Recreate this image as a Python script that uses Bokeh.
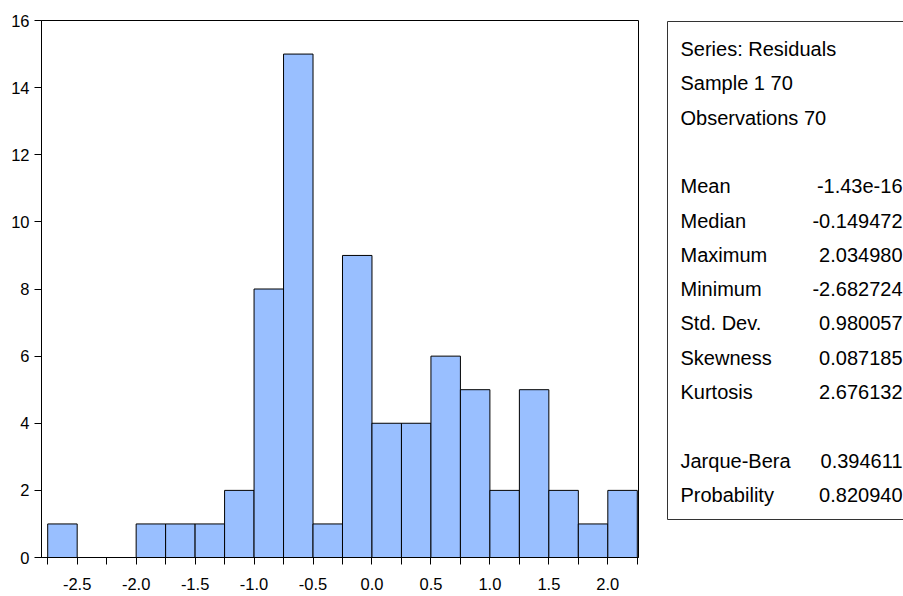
from bokeh.plotting import figure
from bokeh.models import Range1d, FixedTicker, ColumnDataSource
from bokeh.layouts import row
from bokeh.embed import file_html
from bokeh.resources import INLINE
from bokeh.core.properties import value

# ---- data ----
bin_edges = [-2.75, -2.5, -2.25, -2.0, -1.75, -1.5, -1.25, -1.0, -0.75, -0.5, -0.25,
             0.0, 0.25, 0.5, 0.75, 1.0, 1.25, 1.5, 1.75, 2.0, 2.25]
counts = [1, 0, 0, 1, 1, 1, 2, 8, 15, 1, 9, 4, 4, 6, 5, 2, 5, 2, 1, 2]
x_tick_values = [-2.5, -2.0, -1.5, -1.0, -0.5, 0.0, 0.5, 1.0, 1.5, 2.0]
x_tick_labels = ["-2.5", "-2.0", "-1.5", "-1.0", "-0.5", "0.0", "0.5", "1.0", "1.5", "2.0"]
y_tick_values = [0, 2, 4, 6, 8, 10, 12, 14, 16]

header_lines = ["Series: Residuals", "Sample 1 70", "Observations 70"]
stat_names = ["Mean", "Median", "Maximum", "Minimum", "Std. Dev.", "Skewness", "Kurtosis",
              "Jarque-Bera", "Probability"]
stat_values = ["-1.43e-16", "-0.149472", "2.034980", "-2.682724", "0.980057", "0.087185",
               "2.676132", "0.394611", "0.820940"]
stat_rows = [4, 5, 6, 7, 8, 9, 10, 12, 13]

FONT = "Liberation Sans, Arial, sans-serif"
BAR_COLOR = "#99bfff"

TOP, BOTTOM = 20, 39          # frame borders shared by both panels
W1, W2, H = 648, 255, 596

# ---- histogram ----
p = figure(width=W1, height=H, output_backend="svg", toolbar_location=None,
           x_range=Range1d(-2.8026, 2.2602), y_range=Range1d(0, 16),
           min_border_left=41, min_border_right=10,
           min_border_top=TOP, min_border_bottom=BOTTOM)
p.quad(left=bin_edges[:-1], right=bin_edges[1:], bottom=0, top=counts,
       fill_color=BAR_COLOR, line_color="black", line_width=1)

p.xgrid.visible = False
p.ygrid.visible = False
p.outline_line_color = "black"
p.outline_line_width = 1
p.background_fill_color = "white"
p.border_fill_color = "white"

minor = [e for e in bin_edges if e not in x_tick_values]
p.xaxis.ticker = FixedTicker(ticks=x_tick_values, minor_ticks=minor)
p.xaxis.major_label_overrides = {v: s for v, s in zip(x_tick_values, x_tick_labels)}
p.yaxis.ticker = FixedTicker(ticks=y_tick_values, minor_ticks=[])

for ax in (p.xaxis, p.yaxis):
    ax.axis_line_color = "black"
    ax.major_tick_line_color = "black"
    ax.minor_tick_line_color = "black"
    ax.major_tick_in = 0
    ax.major_tick_out = 7
    ax.minor_tick_in = 0
    ax.minor_tick_out = 7
    ax.major_label_text_font = FONT
    ax.major_label_text_font_size = "16.5px"
    ax.major_label_text_color = "black"
p.xaxis.major_label_standoff = 13
p.yaxis.major_label_standoff = 5

# ---- statistics panel (coordinates = page pixels) ----
s = figure(width=W2, height=H, output_backend="svg", toolbar_location=None,
           x_range=Range1d(W1, W1 + W2), y_range=Range1d(H - BOTTOM, TOP),
           x_axis_type=None, y_axis_type=None,
           min_border_left=0, min_border_right=0,
           min_border_top=TOP, min_border_bottom=BOTTOM)
s.xgrid.visible = False
s.ygrid.visible = False
s.outline_line_color = None
s.background_fill_color = "white"
s.border_fill_color = "white"

# box (its right side runs off the page, as in the reference)
s.quad(left=[667], right=[W1 + W2 + 20], top=[21], bottom=[519],
       fill_color=None, line_color="#333333", line_width=1)

y0, dy = 48.5, 34.3
hsrc = ColumnDataSource(dict(x=[680] * len(header_lines),
                             y=[y0 + dy * k for k in range(len(header_lines))],
                             t=header_lines))
s.text(x="x", y="y", text="t", source=hsrc, text_font=value(FONT),
       text_font_size="20px", text_baseline="middle", text_align="left", text_color="black")

nsrc = ColumnDataSource(dict(x=[680] * len(stat_names),
                             y=[y0 + dy * k for k in stat_rows], t=stat_names))
s.text(x="x", y="y", text="t", source=nsrc, text_font=value(FONT),
       text_font_size="20px", text_baseline="middle", text_align="left", text_color="black")

vsrc = ColumnDataSource(dict(x=[902] * len(stat_values),
                             y=[y0 + dy * k for k in stat_rows], t=stat_values))
s.text(x="x", y="y", text="t", source=vsrc, text_font=value(FONT),
       text_font_size="20px", text_baseline="middle", text_align="right", text_color="black")

layout = row(p, s)
open("out.html", "w").write(file_html(layout, INLINE))
